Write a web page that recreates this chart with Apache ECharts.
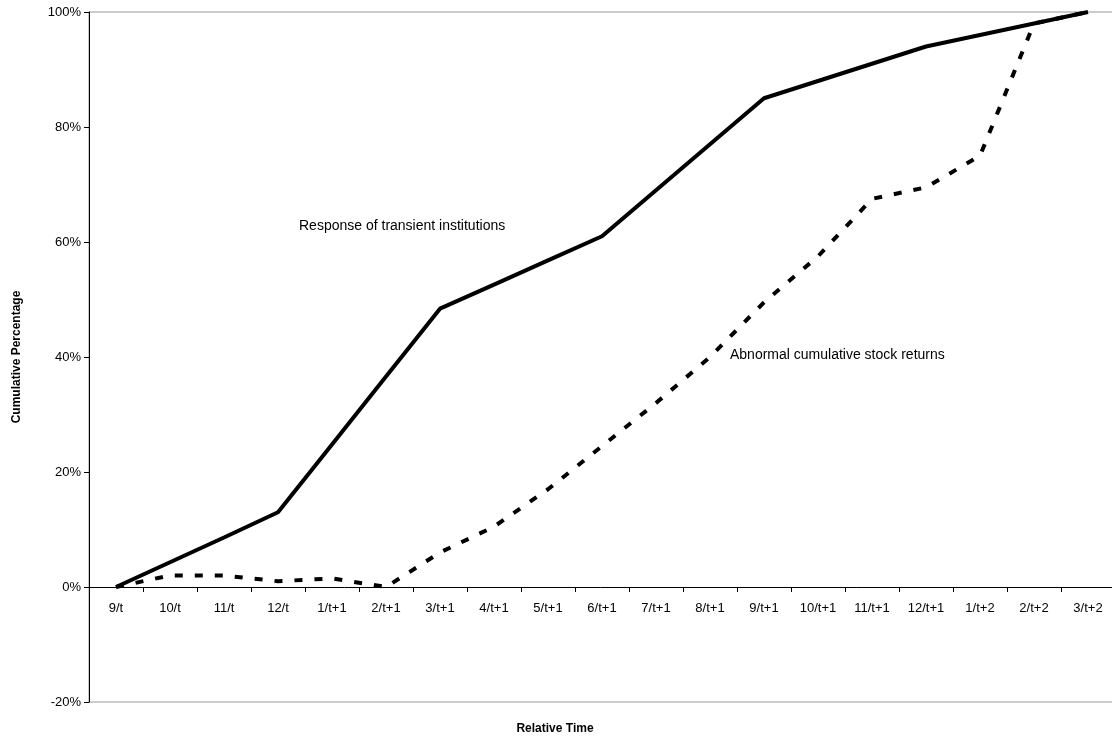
<!DOCTYPE html>
<html><head><meta charset="utf-8">
<script src="https://cdn.jsdelivr.net/npm/echarts@6/dist/echarts.min.js"></script>
<style>html,body{margin:0;padding:0;background:#fff}#c{width:1112px;height:741px}</style>
</head><body><div id="c"></div>
<script>
const categories=['9/t','10/t','11/t','12/t','1/t+1','2/t+1','3/t+1','4/t+1','5/t+1','6/t+1','7/t+1','8/t+1','9/t+1','10/t+1','11/t+1','12/t+1','1/t+2','2/t+2','3/t+2'];
const transient=[0,4.3,8.6,13,24.8,36.6,48.4,52.6,56.8,61,69,77,85,88,91,94,96,98,100];
const abnormal=[0,2,2,1,1.5,0,6,10.5,17,24.5,32,40,49.5,57.5,67.5,69.5,75,98,100];
const yTicks=[-20,0,20,40,60,80,100];
const chart=echarts.init(document.getElementById('c'));
const F='Arial, Liberation Sans, sans-serif';
chart.setOption({
 animation:false,
 grid:{left:89,top:12,width:1026,height:690,show:true,borderColor:'#999',borderWidth:1,outerBoundsMode:'none',containLabel:false},
 xAxis:{type:'category',data:categories,boundaryGap:true,
  axisLine:{onZero:true,lineStyle:{color:'#000',width:1}},
  axisTick:{show:true,length:5,inside:false,lineStyle:{color:'#000'},interval:0},
  axisLabel:{color:'#000',fontFamily:F,fontSize:13,margin:-100,interval:0,verticalAlign:'top'}},
 yAxis:{type:'value',min:-20,max:100,interval:20,
  axisLine:{show:true,lineStyle:{color:'#000'}},
  axisTick:{show:true,length:5,lineStyle:{color:'#000'}},
  splitLine:{show:false},
  axisLabel:{color:'#000',fontFamily:F,fontSize:13,formatter:v=>yTicks.includes(v)?v+'%':''}},
 series:[
  {type:'line',data:transient,symbol:'none',lineStyle:{color:'#000',width:4},z:3},
  {type:'line',data:abnormal,symbol:'none',lineStyle:{color:'#000',width:4,type:[8,12]},z:2}
 ],
 graphic:[
  {type:'text',left:299,top:219,style:{text:'Response of transient institutions',fontFamily:F,fontSize:14,fill:'#000'}},
  {type:'text',left:730,top:348,style:{text:'Abnormal cumulative stock returns',fontFamily:F,fontSize:14,fill:'#000'}},
  {type:'text',x:555,y:729,style:{text:'Relative Time',fontFamily:F,fontSize:12,fontWeight:'bold',fill:'#000',align:'center',verticalAlign:'middle'}},
  {type:'text',x:17,y:357,rotation:Math.PI/2,style:{text:'Cumulative Percentage',fontFamily:F,fontSize:12,fontWeight:'bold',fill:'#000',align:'center',verticalAlign:'middle'}}
 ]
});
</script></body></html>
